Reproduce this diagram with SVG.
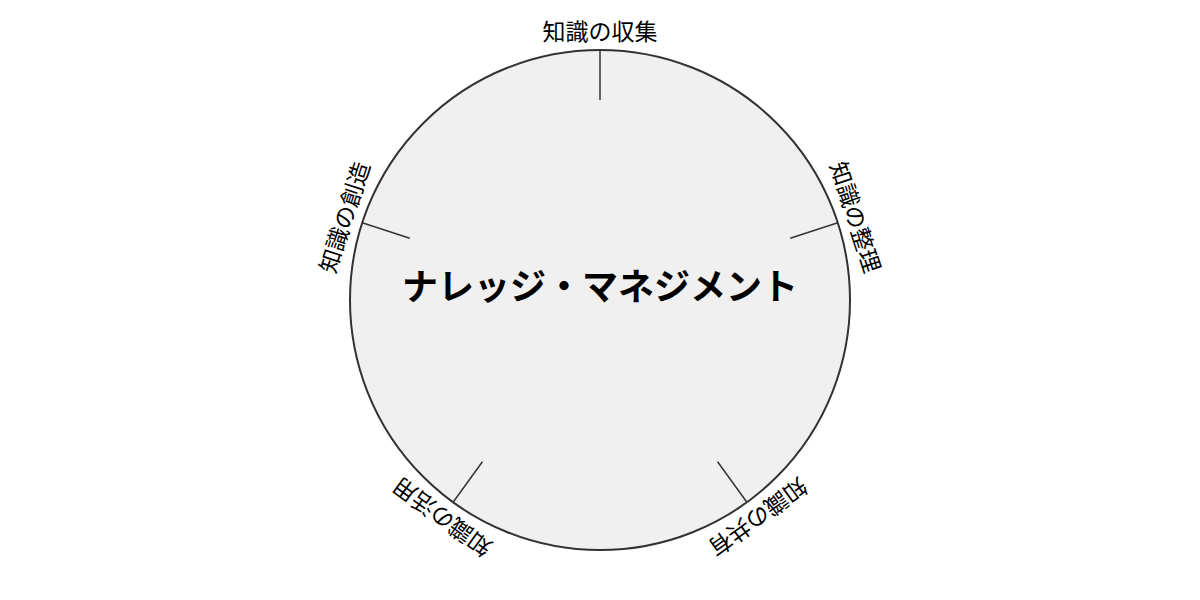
<svg xmlns="http://www.w3.org/2000/svg" width="1200" height="600" viewBox="0 0 1200 600">
<style>
.lbl{font-family:"Noto Sans CJK JP","Noto Sans",sans-serif;font-size:23px;fill:#000;text-anchor:middle}
.title{font-family:"Noto Sans CJK JP","Noto Sans",sans-serif;font-size:36px;font-weight:bold;fill:#000;text-anchor:middle}
.tick{stroke:#333;stroke-width:1.5}
</style>
<rect width="1200" height="600" fill="#fff"/>
<g id="hub">
<circle cx="600" cy="300" r="250" fill="#f0f0f0" stroke="#333" stroke-width="2"/>
<text class="title" x="600" y="300">ナレッジ・マネジメント</text>
</g>
<g id="connectors">
<line class="tick" x1="600" y1="50" x2="600" y2="100"/>
<line class="tick" x1="837.8" y1="222.7" x2="790.2" y2="238.2"/>
<line class="tick" x1="746.9" y1="502.3" x2="717.6" y2="461.8"/>
<line class="tick" x1="453.1" y1="502.3" x2="482.4" y2="461.8"/>
<line class="tick" x1="362.2" y1="222.7" x2="409.8" y2="238.2"/>
</g>
<g id="collect"><text class="lbl" transform="translate(600,40) rotate(0)">知識の収集</text></g>
<g id="organize"><text class="lbl" transform="translate(847.3,219.7) rotate(72)">知識の整理</text></g>
<g id="share"><text class="lbl" transform="translate(752.8,510.3) rotate(144)">知識の共有</text></g>
<g id="utilize"><text class="lbl" transform="translate(447.2,510.3) rotate(216)">知識の活用</text></g>
<g id="create"><text class="lbl" transform="translate(352.7,219.7) rotate(288)">知識の創造</text></g>
</svg>
